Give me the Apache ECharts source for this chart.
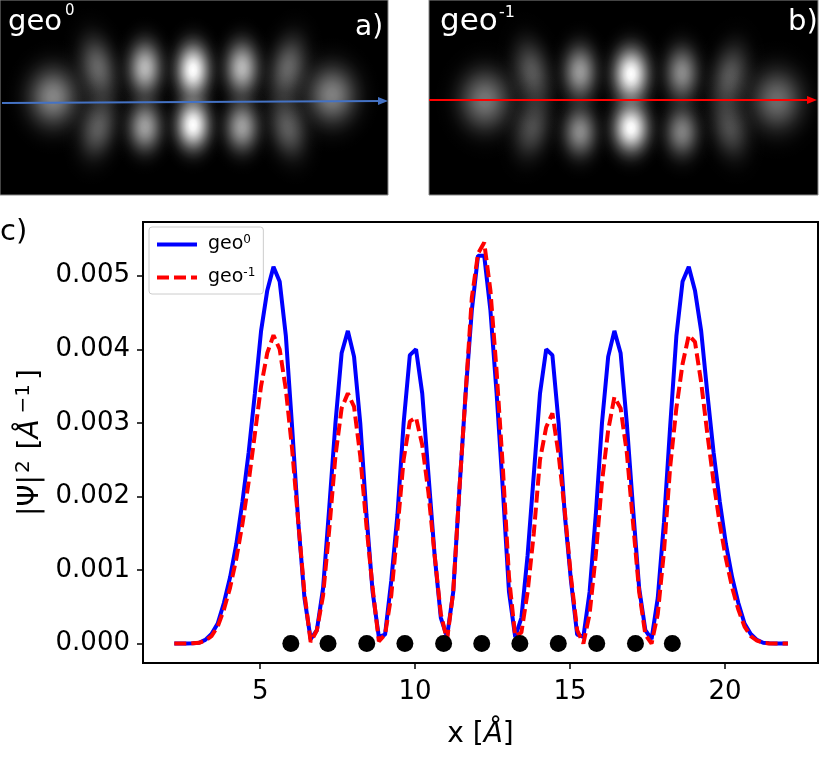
<!DOCTYPE html>
<html>
<head>
<meta charset="utf-8">
<style>html,body{margin:0;padding:0;background:#fff}#chart{width:831px;height:763px}</style>
<script src="https://cdn.jsdelivr.net/npm/echarts@6/dist/echarts.min.js"></script>
</head>
<body>
<div id="chart"></div>
<script>
var FONT = '"DejaVu Sans"';

// x [A] of the sampled profile
var xValues = [2.23,2.43,2.63,2.83,3.03,3.23,3.43,3.63,3.83,4.03,
  4.23,4.43,4.63,4.83,5.03,5.23,5.43,5.63,5.83,6.03,
  6.23,6.43,6.63,6.83,7.03,7.23,7.43,7.63,7.83,8.03,
  8.23,8.43,8.63,8.83,9.03,9.23,9.43,9.63,9.83,10.03,
  10.23,10.43,10.63,10.83,11.03,11.23,11.43,11.63,11.83,12.03,
  12.23,12.43,12.63,12.83,13.03,13.23,13.43,13.63,13.83,14.03,
  14.23,14.43,14.63,14.83,15.03,15.23,15.43,15.63,15.83,16.03,
  16.23,16.43,16.63,16.83,17.03,17.23,17.43,17.63,17.83,18.03,
  18.23,18.43,18.63,18.83,19.03,19.23,19.43,19.63,19.83,20.03,
  20.23,20.43,20.63,20.83,21.03,21.23,21.43,21.63,21.83,22.03];

var geo0 = [0,0,0,0.000003,0.00001,0.00005,0.00013,0.00027,0.00055,0.0009,
  0.00135,0.00193,0.0026,0.0034,0.00425,0.0048,0.00512,0.00492,0.00418,0.00295,
  0.00165,0.00062,0.00006,0.00018,0.00075,0.00185,0.003,0.00395,0.00425,0.0039,
  0.003,0.00175,0.0007,0.00009,0.00012,0.00085,0.00175,0.003,0.00392,0.004,
  0.0034,0.0023,0.0012,0.00035,0.00009,0.0007,0.0021,0.0034,0.00453,0.00527,
  0.00527,0.00453,0.0034,0.0021,0.0007,0.00009,0.00035,0.0012,0.0023,0.0034,
  0.004,0.00392,0.003,0.00175,0.00085,0.00012,0.00009,0.0007,0.00175,0.003,
  0.0039,0.00425,0.00395,0.003,0.00185,0.00075,0.00018,0.00006,0.00062,0.00165,
  0.00295,0.00418,0.00492,0.00512,0.0048,0.00425,0.0034,0.0026,0.00193,0.00135,
  0.0009,0.00055,0.00027,0.00013,0.00005,0.00001,0.000003,0,0,0];

var geo1 = [0,0,0,0.000003,0.00001,0.00004,0.0001,0.00023,0.00046,0.00076,
  0.00115,0.00163,0.0022,0.00285,0.0035,0.00395,0.00419,0.004,0.00345,0.00265,
  0.00165,0.00068,0.00002,0.00018,0.00065,0.00155,0.00255,0.0032,0.0034,0.00322,
  0.00255,0.0016,0.00075,0.00003,0.00012,0.00065,0.00155,0.0025,0.00302,0.00307,
  0.0027,0.00205,0.0012,0.0004,0.00005,0.0007,0.0021,0.0034,0.0047,0.0053,
  0.00545,0.0048,0.0037,0.0024,0.0009,0.0001,0.00015,0.0007,0.0015,0.0025,
  0.00294,0.00313,0.00257,0.0018,0.0009,0.00018,0,0.0004,0.0012,0.0022,
  0.0029,0.00335,0.0032,0.0026,0.00165,0.0007,0.00012,0,0.0004,0.00125,
  0.0024,0.0032,0.0038,0.00419,0.0041,0.00355,0.00285,0.0022,0.00163,0.00115,
  0.00076,0.00046,0.00023,0.0001,0.00004,0.00001,0,0,0,0];

var atomX = [5.99,7.19,8.44,9.67,10.92,12.15,13.38,14.62,15.86,17.11,18.3];

var xTicks = [5,10,15,20];
var yTicks = [0,0.001,0.002,0.003,0.004,0.005];

// density lobes of the two maps: x, y, brightness, half width, half height, tilt
var lobesA = [
  [193,70,1.00,34,54,0],[193,125,1.00,34,50,0],
  [145,68,0.72,34,54,0],[145,127,0.62,34,50,0],
  [242,68,0.72,34,54,0],[242,127,0.62,34,50,0],
  [98,68,0.40,36,64,0.2],[98,128,0.36,36,60,-0.2],
  [288,68,0.40,36,64,-0.2],[288,128,0.36,36,60,0.2],
  [53,97,0.52,50,60,0],[332,95,0.50,50,60,0]
];
var lobesB = [
  [631,74,1.00,36,54,0],[631,128,1.00,36,50,0],
  [580,72,0.60,34,54,0],[580,132,0.54,34,50,0],
  [682,73,0.54,34,54,0],[682,132,0.50,34,50,0],
  [532,72,0.34,36,64,0.2],[532,128,0.30,36,60,-0.2],
  [730,76,0.34,36,64,-0.2],[730,128,0.30,36,60,0.2],
  [485,100,0.46,52,62,0],[777,100,0.42,52,62,0]
];

function lobeFill(peak){
  var stops = [];
  for(var i=0;i<=10;i++){
    var t=i/10;
    var a=peak*Math.exp(-4.5*t*t)*(1-t*t*t);
    stops.push({offset:t,color:'rgba(255,255,255,'+a.toFixed(3)+')'});
  }
  return new echarts.graphic.RadialGradient(0.5,0.5,0.5,stops);
}

function renderLobe(params,api){
  var p=api.coord([api.value(0),api.value(1)]);
  var s=api.size([api.value(3),api.value(4)]);
  return {
    type:'circle',
    shape:{cx:0,cy:0,r:1},
    x:p[0],y:p[1],
    scaleX:s[0],scaleY:s[1],
    rotation:api.value(5),
    style:{fill:lobeFill(api.value(2)),blend:'lighter'},
    silent:true
  };
}

function arrowSeries(idx,x0,y0,x1,y1,color){
  return {
    type:'line',xAxisIndex:idx,yAxisIndex:idx,data:[],silent:true,
    markLine:{silent:true,animation:false,symbol:['none','triangle'],symbolSize:[8,10],
      label:{show:false},lineStyle:{color:color,width:2.2,type:'solid'},
      data:[[{coord:[x0,y0]},{coord:[x1,y1]}]]}
  };
}

var chart=echarts.init(document.getElementById('chart'),null,{renderer:'canvas'});
chart.setOption({
  animation:false,
  backgroundColor:'#fff',
  grid:[
    {left:0,top:0,width:388,height:195,show:true,backgroundColor:'#000',borderColor:'#888',borderWidth:1,outerBoundsMode:'none'},
    {left:429,top:0,width:389,height:195,show:true,backgroundColor:'#000',borderColor:'#888',borderWidth:1,outerBoundsMode:'none'},
    {left:143,top:222,right:13,bottom:100,show:true,backgroundColor:'#fff',borderColor:'#000',borderWidth:2,outerBoundsMode:'none'}
  ],
  xAxis:[
    {gridIndex:0,type:'value',min:0,max:388,show:false},
    {gridIndex:1,type:'value',min:429,max:818,show:false},
    {gridIndex:2,type:'value',min:1.22,max:23,
      name:'{n|x [}{i|Å}{n|]}',nameLocation:'middle',nameGap:58,
      nameTextStyle:{fontFamily:FONT,fontSize:28,color:'#000',
        rich:{n:{fontFamily:FONT,fontSize:28,color:'#000'},i:{fontFamily:FONT,fontSize:28,fontStyle:'italic',color:'#000'}}},
      axisLine:{show:true,onZero:false,lineStyle:{color:'#000',width:2}},
      axisTick:{show:true,length:6,customValues:xTicks,lineStyle:{color:'#000',width:1.5}},
      axisLabel:{customValues:xTicks,fontFamily:FONT,fontSize:26,color:'#000',margin:16},
      splitLine:{show:false}}
  ],
  yAxis:[
    {gridIndex:0,type:'value',min:0,max:195,inverse:true,show:false},
    {gridIndex:1,type:'value',min:0,max:195,inverse:true,show:false},
    {gridIndex:2,type:'value',min:-0.000265,max:0.00573,
      name:'{n||Ψ|}{s|2}{n| [}{i|Å}{s|−1}{e|]}',nameLocation:'middle',nameGap:94,nameRotate:90,
      nameTextStyle:{fontFamily:FONT,fontSize:28,color:'#000',
        rich:{n:{fontFamily:FONT,fontSize:28,color:'#000'},
              i:{fontFamily:FONT,fontSize:28,fontStyle:'italic',color:'#000',padding:[0,4,0,0]},
              s:{fontFamily:FONT,fontSize:20,color:'#000',padding:[0,2,14,2]},
              e:{fontFamily:FONT,fontSize:28,color:'#000',padding:[0,0,0,2]}}},
      axisLine:{show:true,onZero:false,lineStyle:{color:'#000',width:2}},
      axisTick:{show:true,length:6,customValues:yTicks,lineStyle:{color:'#000',width:1.5}},
      axisLabel:{customValues:yTicks,fontFamily:FONT,fontSize:26,color:'#000',margin:13,
        formatter:function(v){return v.toFixed(3);}},
      splitLine:{show:false}}
  ],
  legend:{
    left:149,top:227,orient:'vertical',
    data:['geo0','geo-1'],
    itemWidth:40,itemHeight:14,itemGap:13,
    padding:[7,8,7,6],
    backgroundColor:'#fff',borderColor:'#ccc',borderWidth:1,borderRadius:3,
    itemStyle:{opacity:0},
    lineStyle:{width:4},
    formatter:function(name){return '{b|geo}{s|'+name.slice(3)+'}';},
    textStyle:{fontFamily:FONT,fontSize:19,color:'#000',
      rich:{b:{fontFamily:FONT,fontSize:19,color:'#000',padding:[0,0,0,6]},
            s:{fontFamily:FONT,fontSize:12,color:'#000',padding:[0,0,9,0]}}}
  },
  graphic:[
    {type:'text',left:8,top:8,z:50,style:{fill:'#fff',font:'29px '+FONT,text:'geo'}},
    {type:'text',left:65,top:4,z:50,style:{fill:'#fff',font:'15px '+FONT,text:'0'}},
    {type:'text',left:355,top:14,z:50,style:{fill:'#fff',font:'28px '+FONT,text:'a)'}},
    {type:'text',left:440,top:6,z:50,style:{fill:'#fff',font:'31px '+FONT,text:'geo'}},
    {type:'text',left:499,top:5,z:50,style:{fill:'#fff',font:'16px '+FONT,text:'-1'}},
    {type:'text',left:788,top:8,z:50,style:{fill:'#fff',font:'29px '+FONT,text:'b)'}},
    {type:'text',left:0,top:218,z:50,style:{fill:'#000',font:'29px '+FONT,text:'c)'}}
  ],
  series:[
    {type:'custom',name:'mapA',xAxisIndex:0,yAxisIndex:0,coordinateSystem:'cartesian2d',clip:true,silent:true,
      renderItem:renderLobe,data:lobesA},
    {type:'custom',name:'mapB',xAxisIndex:1,yAxisIndex:1,coordinateSystem:'cartesian2d',clip:true,silent:true,
      renderItem:renderLobe,data:lobesB},
    arrowSeries(0,2,103,383,101,'#4472c4'),
    arrowSeries(1,429,100,812,100,'#ff0000'),
    {type:'line',name:'geo0',xAxisIndex:2,yAxisIndex:2,showSymbol:false,symbol:'none',z:3,
      data:xValues.map(function(x,i){return [x,geo0[i]];}),
      lineStyle:{color:'#0000ff',width:4},itemStyle:{color:'#0000ff'}},
    {type:'line',name:'geo-1',xAxisIndex:2,yAxisIndex:2,showSymbol:false,symbol:'none',z:4,
      data:xValues.map(function(x,i){return [x,geo1[i]];}),
      lineStyle:{color:'#ff0000',width:4,type:[12,5]},itemStyle:{color:'#ff0000'}},
    {type:'scatter',name:'atoms',xAxisIndex:2,yAxisIndex:2,symbolSize:17,z:5,
      data:atomX.map(function(x){return [x,0];}),
      itemStyle:{color:'#000',opacity:1}}
  ]
});
</script>
</body>
</html>
